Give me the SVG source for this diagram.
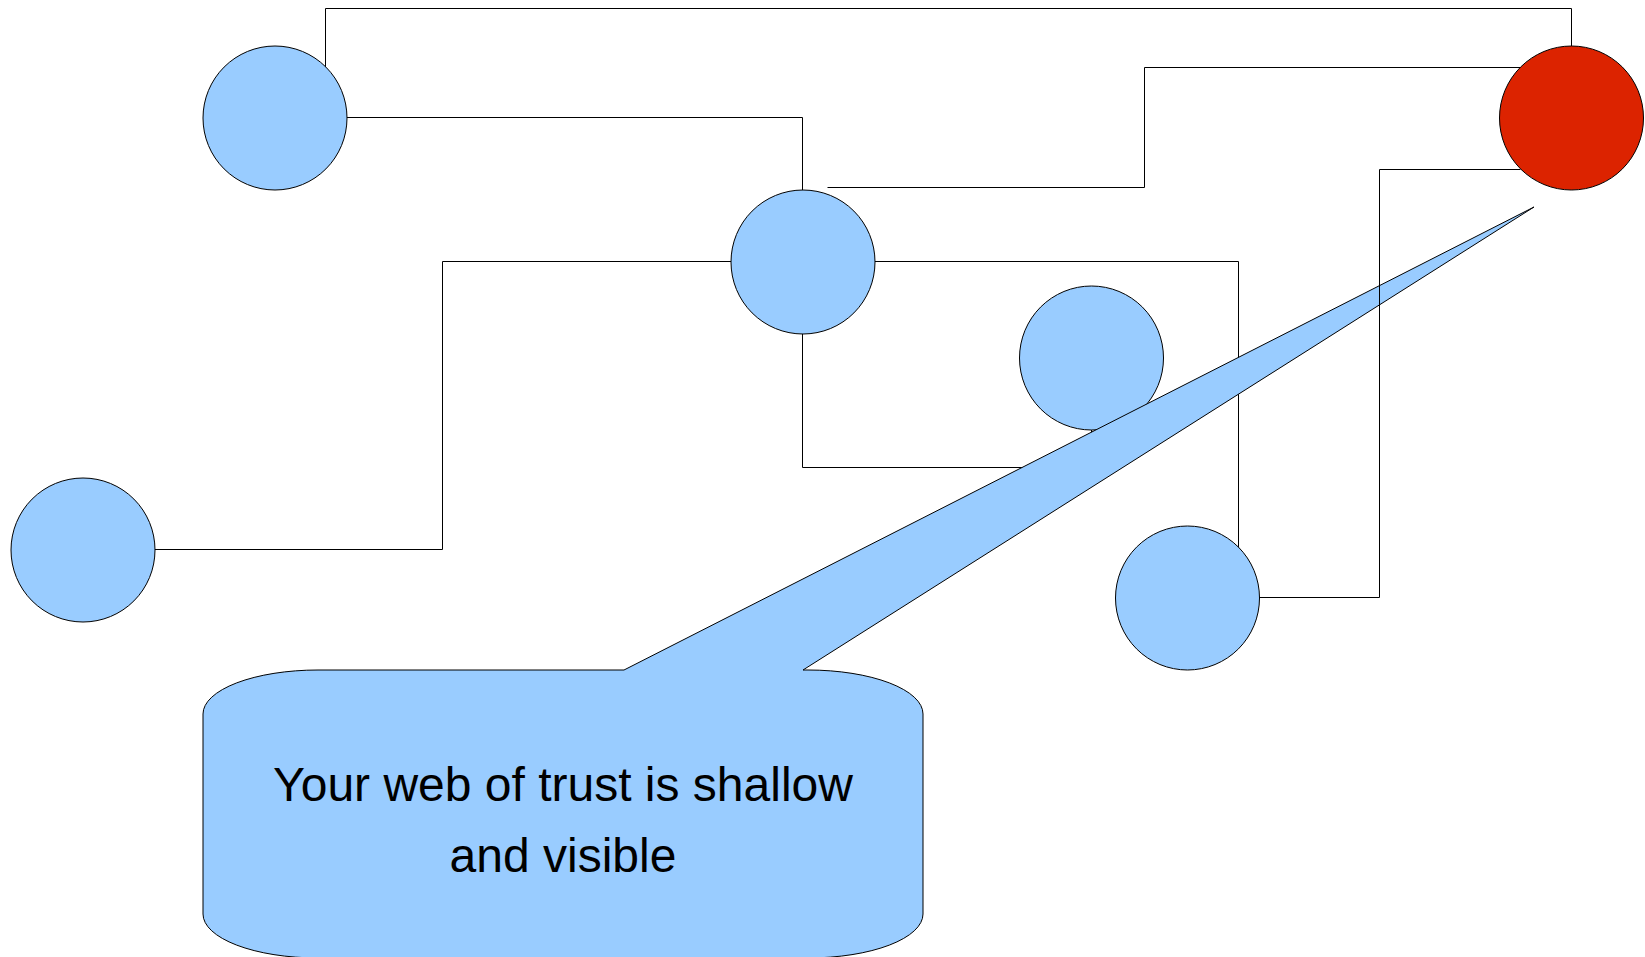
<svg xmlns="http://www.w3.org/2000/svg" width="1645" height="957" viewBox="0 0 1645 957">
<style>
.conn{fill:none;stroke:#000;stroke-width:1}
.node{fill:#99ccff;stroke:#000;stroke-width:1}
.red{fill:#dc2300;stroke:#000;stroke-width:1}
.callout{fill:#99ccff;stroke:#000;stroke-width:1;stroke-linejoin:miter}
.label{font-family:"Liberation Sans",Arial,sans-serif;font-size:48px;fill:#000;text-anchor:middle}
</style>
<rect width="1645" height="957" fill="#fff"/>
<g id="connectors">
<path class="conn" d="M325.5 118 V8.5 H1571.5 V118"/>
<path class="conn" d="M275 117.5 H802.5 V262"/>
<path class="conn" d="M827.5 187.5 H1144.5 V67.5 H1560"/>
<path class="conn" d="M803 261.5 H442.5 V549.5 H83"/>
<path class="conn" d="M803 261.5 H1238.5 V598 H1187"/>
<path class="conn" d="M802.5 262 V467.5 H1091.5 V358"/>
</g>
<g id="node-a"><circle class="node" cx="275" cy="118" r="72"/></g>
<g id="node-red"><circle class="red" cx="1571.5" cy="118" r="72"/></g>
<g id="node-b"><circle class="node" cx="803" cy="262" r="72"/></g>
<g id="node-d"><circle class="node" cx="1091.5" cy="358" r="72"/></g>
<g id="node-f"><circle class="node" cx="83" cy="550" r="72"/></g>
<g id="node-e"><circle class="node" cx="1187.5" cy="598" r="72"/></g>
<g id="callout">
<path class="callout" d="M203 714 A115 44 0 0 1 318 670 H624 L1534 207 L803 670 H808 A115 44 0 0 1 923 714 V914 A115 44 0 0 1 808 958 H318 A115 44 0 0 1 203 914 Z"/>
<text class="label" x="563" y="801">Your web of trust is shallow</text>
<text class="label" x="563" y="872">and visible</text>
</g>
<g id="connectors-top">
<path class="conn" d="M1520.5 169.5 H1379.5 V597.5 H1259.5"/>
</g>
</svg>
